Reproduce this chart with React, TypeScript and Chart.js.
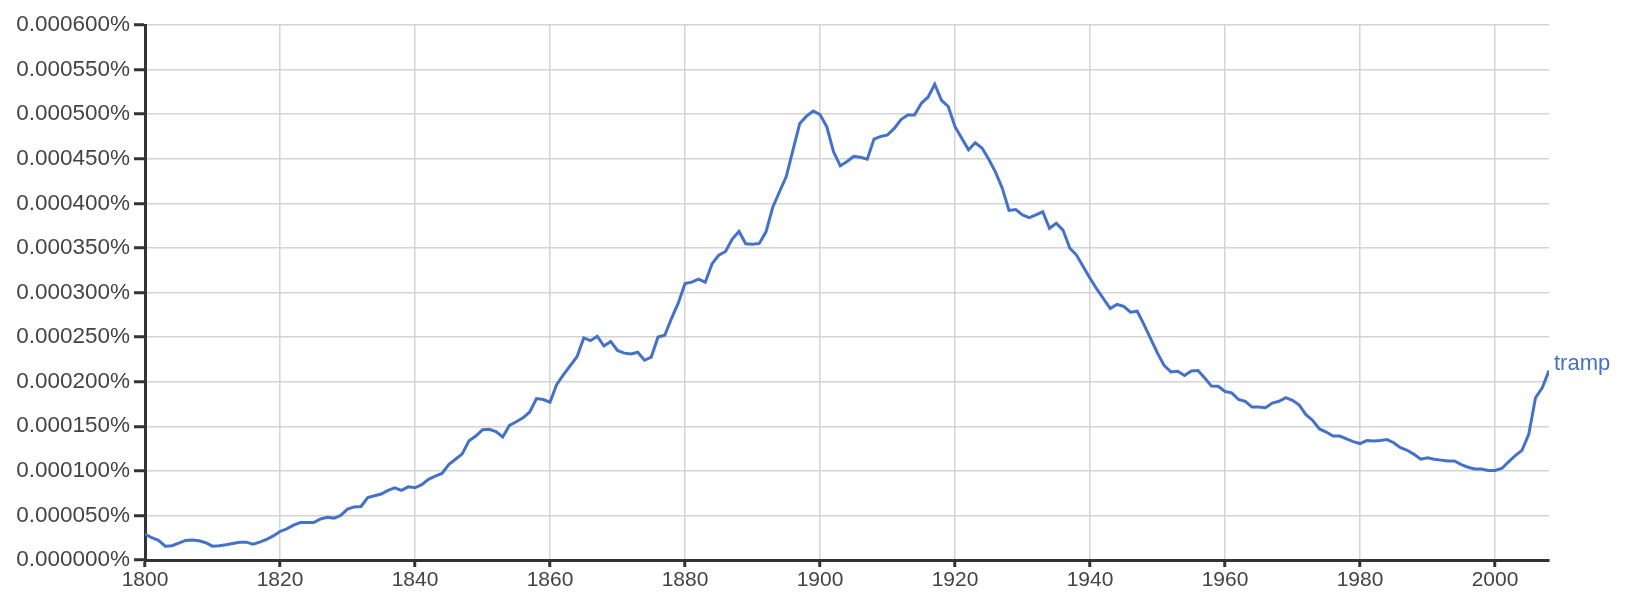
import React, { useEffect, useRef } from 'react';
import { Chart, registerables } from 'chart.js';

Chart.register(...registerables);

// Series: frequency of "tramp", in millionths of a percent (1 = 0.000001%)
const SERIES_LABEL = 'tramp';
const START_YEAR = 1800;
const trampValues: number[] = [
  // 1800-1819
  29, 25, 22, 15.5, 16, 19, 22, 22.4, 21.5, 19.4, 15.5, 16, 17, 18.5, 20, 20, 17.7, 20, 23, 27,
  // 1820s
  32, 35, 39, 42, 42, 42, 46, 48, 47, 50,
  // 1830s
  57, 59.5, 60, 70, 72, 74, 78, 81, 78, 82,
  // 1840s
  81, 84.5, 90.5, 94, 97, 107, 113, 119, 133.6, 139,
  // 1850s
  146, 146.5, 144, 138, 151, 155, 159.5, 166, 181, 180,
  // 1860s
  177, 197, 208, 218, 228, 249, 246, 251, 240, 245,
  // 1870s
  235, 232, 231, 233, 224, 227.6, 250, 252, 271, 288,
  // 1880s
  310, 311.6, 315, 311.6, 332, 342, 346, 360, 368.5, 354.7,
  // 1890s
  354, 355, 368, 395.6, 413, 430, 460, 489.6, 497.8, 503.5,
  // 1900s
  499.5, 486, 458, 442, 447, 452.6, 451.7, 449.5, 472, 475,
  // 1910s
  476.7, 484, 494, 499, 499, 512, 519, 533.6, 515.5, 508.6,
  // 1920s
  486, 473, 460, 468, 462, 449.5, 435, 417, 392, 393,
  // 1930s
  387, 384, 387, 390.5, 372, 377.6, 370, 350, 342, 329,
  // 1940s
  316, 304, 293, 282, 286.6, 284.5, 278, 279, 264, 248,
  // 1950s
  232, 218, 211, 211.6, 207, 212, 212.5, 204, 195, 194.8,
  // 1960s
  189, 187.5, 180, 178, 171.5, 171.5, 170.7, 176, 178, 182,
  // 1970s
  179, 173.7, 163, 156.5, 147, 143.5, 139, 139, 135.8, 132.7,
  // 1980s
  130.6, 134, 133.6, 134, 135, 131.5, 126, 123, 118.5, 113,
  // 1990s
  114.6, 113, 112, 111, 111, 107, 104, 102, 102, 100.4,
  // 2000-2008
  100.4, 102.6, 110, 117, 123, 141, 182, 193, 212.5,
];

const X_MIN = 1800;
const X_MAX = 2008;
const X_TICKS = [1800, 1820, 1840, 1860, 1880, 1900, 1920, 1940, 1960, 1980, 2000];

const Y_MIN = 0;
const Y_MAX = 600;
const Y_TICKS = [0, 50, 100, 150, 200, 250, 300, 350, 400, 450, 500, 550, 600];
const Y_TICK_LABELS = [
  '0.000000%', '0.000050%', '0.000100%', '0.000150%', '0.000200%', '0.000250%', '0.000300%',
  '0.000350%', '0.000400%', '0.000450%', '0.000500%', '0.000550%', '0.000600%',
];

const LINE_COLOR = '#4472c8';
const TEXT_COLOR = '#444444';
const AXIS_COLOR = '#333333';
const GRID_COLOR = '#d4d4d4';
const FONT_FAMILY = "'Liberation Sans', Arial, sans-serif";

export default function App() {
  const canvasRef = useRef<HTMLCanvasElement | null>(null);

  useEffect(() => {
    document.body.style.margin = '0';
    const canvas = canvasRef.current;
    if (!canvas) return;

    const endLabelPlugin = {
      id: 'endLabel',
      afterDatasetsDraw(chart: any) {
        const meta = chart.getDatasetMeta(0);
        const pts = meta.data;
        if (!pts || !pts.length) return;
        const last = pts[pts.length - 1];
        const ctx = chart.ctx;
        ctx.save();
        ctx.font = `22px ${FONT_FAMILY}`;
        ctx.fillStyle = LINE_COLOR;
        ctx.textAlign = 'left';
        ctx.textBaseline = 'alphabetic';
        ctx.fillText(SERIES_LABEL, last.x + 5, last.y - 1);
        ctx.restore();
      },
    };

    const chart = new Chart(canvas, {
      type: 'line',
      data: {
        datasets: [
          {
            label: SERIES_LABEL,
            data: trampValues.map((v, i) => ({ x: START_YEAR + i, y: v })),
            borderColor: LINE_COLOR,
            backgroundColor: LINE_COLOR,
            borderWidth: 3,
            pointRadius: 0,
            pointHoverRadius: 0,
            tension: 0,
            fill: false,
          },
        ],
      },
      options: {
        responsive: false,
        animation: false,
        layout: { padding: { left: 0, right: 85, top: 25, bottom: 0 } },
        plugins: {
          legend: { display: false },
          tooltip: { enabled: false },
        },
        scales: {
          x: {
            type: 'linear',
            min: X_MIN,
            max: X_MAX,
            afterBuildTicks: (scale: any) => {
              scale.ticks = X_TICKS.map((v) => ({ value: v }));
            },
            afterFit: (scale: any) => {
              scale.height = 40;
            },
            ticks: {
              autoSkip: false,
              maxRotation: 0,
              padding: 1,
              color: TEXT_COLOR,
              font: { family: FONT_FAMILY, size: 21 },
              callback: (v: any) => String(v),
            },
            grid: {
              color: GRID_COLOR,
              lineWidth: 1.5,
              drawTicks: true,
              tickLength: 7,
              tickColor: AXIS_COLOR,
              tickWidth: 3,
            },
            border: { display: true, color: AXIS_COLOR, width: 3 },
          },
          y: {
            type: 'linear',
            min: Y_MIN,
            max: Y_MAX,
            afterBuildTicks: (scale: any) => {
              scale.ticks = Y_TICKS.map((v) => ({ value: v }));
            },
            afterFit: (scale: any) => {
              scale.width = 145;
            },
            ticks: {
              autoSkip: false,
              padding: 4,
              color: TEXT_COLOR,
              font: { family: FONT_FAMILY, size: 22.5 },
              callback: (_v: any, i: number) => Y_TICK_LABELS[i],
            },
            grid: {
              color: GRID_COLOR,
              lineWidth: 1.5,
              drawTicks: true,
              tickLength: 11,
              tickColor: AXIS_COLOR,
              tickWidth: 3,
            },
            border: { display: true, color: AXIS_COLOR, width: 3 },
          },
        },
      },
      plugins: [endLabelPlugin],
    } as any);

    return () => chart.destroy();
  }, []);

  return (
    <div style={{ width: 1634, height: 600 }}>
      <canvas ref={canvasRef} width={1634} height={600} style={{ display: 'block' }} />
    </div>
  );
}
